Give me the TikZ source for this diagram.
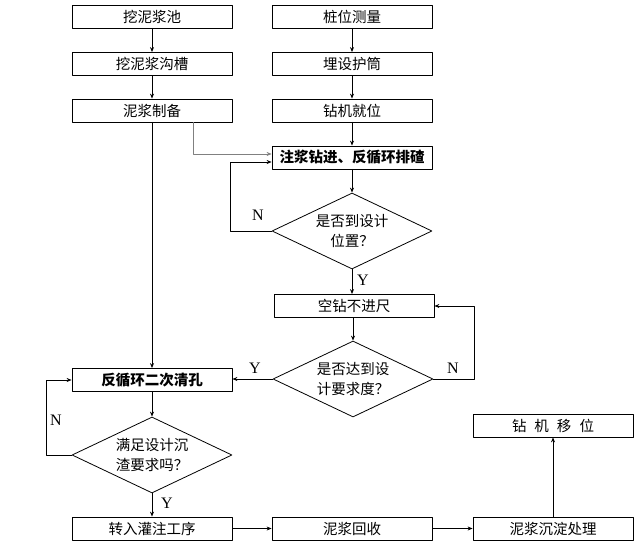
\documentclass[tikz,border=0pt]{standalone}
\usepackage{fontspec}
\setmainfont{Noto Sans CJK SC}
\newfontfamily\latinserif{Liberation Serif}
\usetikzlibrary{arrows.meta,shapes.geometric}

\begin{document}
\begin{tikzpicture}[line cap=round,line join=round,>={Stealth[length=5pt,width=4pt]},x=1pt,y=-1pt,
    stepbox/.style={draw,line width=0.8pt,minimum width=160pt,minimum height=23pt,inner sep=0pt,font=\fontsize{14.5}{15}\selectfont},
    boldbox/.style={stepbox,font=\fontsize{14.5}{15}\selectfont\bfseries},
    askbox/.style={draw,line width=0.8pt,diamond,aspect=2.1,minimum width=160pt,minimum height=76pt,inner sep=0pt,align=center,font=\fontsize{14.5}{20}\selectfont},
    flow/.style={->,line width=0.8pt},
    tag/.style={font=\latinserif\fontsize{16}{17}\selectfont}]
      \useasboundingbox (0,0) rectangle (640,548);

      % left column
      \node[stepbox] (pool) at (152,16.5) {挖泥浆池};
      \node[stepbox] (trench) at (152,64) {挖泥浆沟槽};
      \node[stepbox] (prep) at (152,110.5) {泥浆制备};
      \node[boldbox] (clean) at (152,380) {反循环二次清孔};
      \node[askbox] (q3) at (152,455) {满足设计沉\\渣要求吗？};
      \node[stepbox] (pour) at (152,528.5) {转入灌注工序};

      % middle column
      \node[stepbox] (survey) at (352,16.5) {桩位测量};
      \node[stepbox] (casing) at (352,64) {埋设护筒};
      \node[stepbox] (rig) at (352,110.5) {钻机就位};
      \node[boldbox] (drill) at (352,157.5) {注浆钻进、反循环排碴};
      \node[askbox] (q1) at (352,231) {是否到设计\\位置？};
      \node[stepbox] (idle) at (354,306) {空钻不进尺};
      \node[askbox] (q2) at (353,379) {是否达到设\\计要求度？};
      \node[stepbox] (recover) at (352,528.5) {泥浆回收};

      % right column
      \node[stepbox] (move) at (553,425.5) {钻\hspace{8pt}机\hspace{8pt}移\hspace{8pt}位};
      \node[stepbox] (settle) at (553,528.5) {泥浆沉淀处理};

      \draw[flow] (pool) -- (trench);
      \draw[flow] (trench) -- (prep);
      \draw[flow] (prep) -- (clean);
      \draw[flow] (survey) -- (casing);
      \draw[flow] (casing) -- (rig);
      \draw[flow] (rig) -- (drill);
      \draw[->,gray,line width=0.6pt] ([xshift=41pt]prep.south) |- ([yshift=3.5pt]drill.west);
      \draw[flow] (drill) -- (q1);
      \draw[flow] (q1.west) -- ++(-41,0) |- ([yshift=-4.5pt]drill.west);
      \draw[flow] (q1.south) -- (idle.north -| q1.south);
      \draw[flow] (idle.south -| q2.north) -- (q2.north);
      \draw[flow] (q2.east) -- ++(41,0) |- (idle.east);
      \draw[flow] (q2.west) -- (clean.east |- q2.west);
      \draw[flow] (clean) -- (q3);
      \draw[flow] (q3.west) -- ++(-25,0) |- (clean.west);
      \draw[flow] (q3.south) -- (pour.north);
      \draw[->,line width=0.6pt] (pour) -- (recover);
      \draw[->,line width=0.6pt] (recover) -- (settle);
      \draw[flow] (settle) -- (move);

      \node[tag] (n1) at (258,215) {N};
      \node[tag] (y1) at (363,280) {Y};
      \node[tag] (n2) at (453,368) {N};
      \node[tag] (y2) at (255,368) {Y};
      \node[tag] (n3) at (56,420) {N};
      \node[tag] (y3) at (167,503) {Y};
    \end{tikzpicture}
\end{document}
